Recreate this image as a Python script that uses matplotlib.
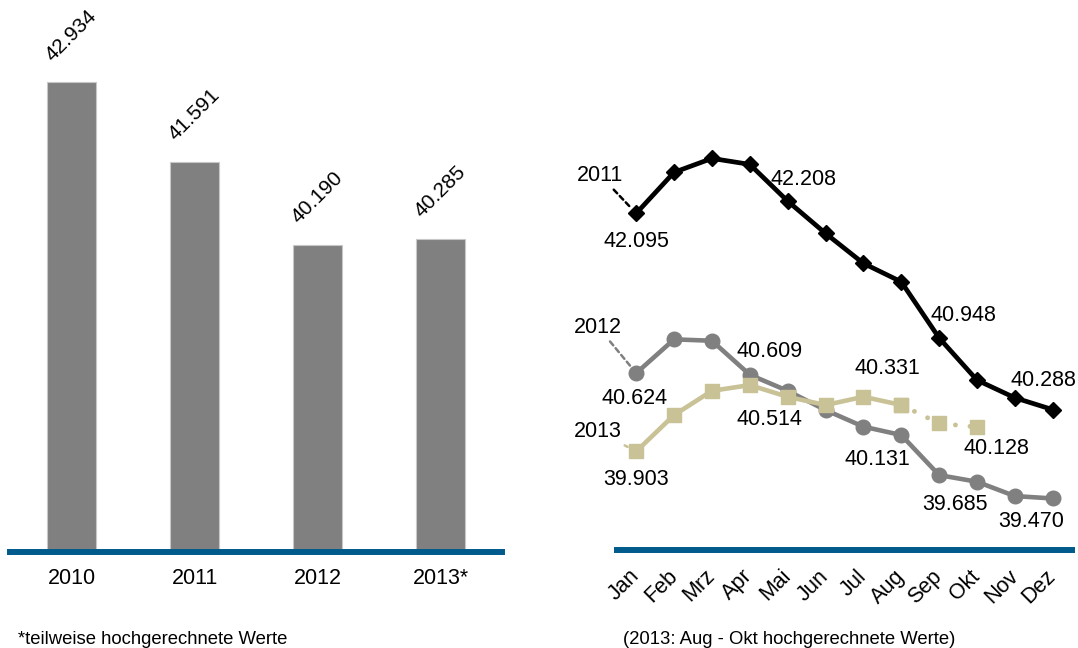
import matplotlib
matplotlib.use('Agg')
from matplotlib import pyplot as plt

plt.rcParams['font.family'] = ['Liberation Sans', 'DejaVu Sans']

# Jahreswerte (links)
jahre = ['2010', '2011', '2012', '2013*']
jahres_werte = [42.934, 41.591, 40.190, 40.285]

# Monatswerte (rechts)
monate = ['Jan', 'Feb', 'Mrz', 'Apr', 'Mai', 'Jun', 'Jul', 'Aug', 'Sep', 'Okt', 'Nov', 'Dez']
werte_2011 = [42.095, 42.473, 42.601, 42.546, 42.208, 41.911, 41.635, 41.465, 40.948, 40.560, 40.397, 40.288]
werte_2012 = [40.624, 40.935, 40.922, 40.609, 40.461, 40.284, 40.131, 40.054, 39.685, 39.624, 39.492, 39.470]
werte_2013 = [39.903, 40.238, 40.461, 40.514, 40.406, 40.330, 40.406, 40.331, 40.161, 40.128]
ab_hochrechnung = 7  # ab Aug hochgerechnet

BLAU = '#005b8c'
GRAU = '#808080'
BEIGE = '#c9c296'
FS = 15.5

def fmt(v):
    return '%.3f' % v

fig = plt.figure(figsize=(10.78, 6.48), dpi=100)

# --- Balken ---
ax1 = fig.add_axes([0.0093, 0.1486, 0.4564, 0.8216])
xs = list(range(len(jahre)))
ax1.bar(xs, jahres_werte, width=0.4, color=GRAU, edgecolor='#c8c8c8', linewidth=0.8)
for i, v in enumerate(jahres_werte):
    ax1.annotate(fmt(v), (i, v), xytext=(0, 18), textcoords='offset pixels',
                 ha='center', va='bottom', rotation=45, fontsize=15)
ax1.set_xlim(-0.5, len(jahre) - 0.5)
ax1.set_ylim(35, 44)
ax1.set_xticks(xs)
ax1.set_xticklabels(jahre, fontsize=FS)
ax1.set_yticks([])
ax1.tick_params(axis='x', length=0, pad=12)
for s in ['top', 'left', 'right']:
    ax1.spines[s].set_visible(False)
ax1.spines['bottom'].set_color(BLAU)
ax1.spines['bottom'].set_linewidth(4.3)

# --- Linien ---
ax2 = fig.add_axes([0.5726, 0.152, 0.4215, 0.6704])
mx = list(range(len(monate)))
ax2.plot(mx, werte_2011, color='black', lw=3.4, marker='D', ms=8.5, zorder=5)
ax2.plot(mx, werte_2012, color=GRAU, lw=3.3, marker='o', ms=10.5, zorder=3)
n = ab_hochrechnung
ax2.plot(mx[:n + 1], werte_2013[:n + 1], color=BEIGE, lw=3.3, marker='s', ms=10.5, zorder=4)
ax2.plot(mx[n:len(werte_2013)], werte_2013[n:], color=BEIGE, lw=3.5,
         linestyle=(0, (0.01, 3)), dash_capstyle='round', marker='s', ms=10.5, zorder=4)

# Datenbeschriftungen: (Index, dx, dy) in Pixeln
beschriftung = [
    (werte_2011, [(0, 0, -28), (4, 16, 22), (8, 24, 22), (11, -9, 29)]),
    (werte_2012, [(0, -2, -25), (3, 20, 23), (6, 14, -33), (8, 16, -29), (11, -22, -23)]),
    (werte_2013, [(0, 0, -28), (3, 20, -34), (7, -14, 36), (9, 19, -22)]),
]
for werte, pos in beschriftung:
    for i, dx, dy in pos:
        ax2.annotate(fmt(werte[i]), (i, werte[i]), xytext=(dx, dy), textcoords='offset pixels',
                     ha='center', va='center', fontsize=FS, zorder=6)

# Reihennamen mit Hinweislinie
for name, werte, farbe, off in [('2011', werte_2011, 'black', (-36, 38)),
                                 ('2012', werte_2012, GRAU, (-38, 46)),
                                 ('2013', werte_2013, BEIGE, (-38, 20))]:
    ax2.annotate(name, (0, werte[0]), xytext=off, textcoords='offset pixels',
                 ha='center', va='center', fontsize=FS, annotation_clip=False,
                 arrowprops=dict(arrowstyle='-', color=farbe, lw=1.8,
                                 linestyle=(0, (2, 1.5)), shrinkA=1, shrinkB=7))

ax2.set_xlim(-0.5, len(monate) - 0.5)
ax2.set_ylim(39, 43)
ax2.set_xticks(mx)
ax2.set_xticklabels(monate, fontsize=FS)
plt.setp(ax2.get_xticklabels(), rotation=45, ha='right', va='center', rotation_mode='anchor')
ax2.set_yticks([])
ax2.tick_params(axis='x', length=0, pad=17)
for s in ['top', 'left', 'right']:
    ax2.spines[s].set_visible(False)
ax2.spines['bottom'].set_color(BLAU)
ax2.spines['bottom'].set_linewidth(4.3)

fig.text(18 / 1078, 1 - 639 / 648, '*teilweise hochgerechnete Werte', fontsize=13.3, va='center')
fig.text(623 / 1078, 1 - 639 / 648, '(2013: Aug - Okt hochgerechnete Werte)', fontsize=13.3, va='center')

fig.savefig('out.png', dpi=100)
